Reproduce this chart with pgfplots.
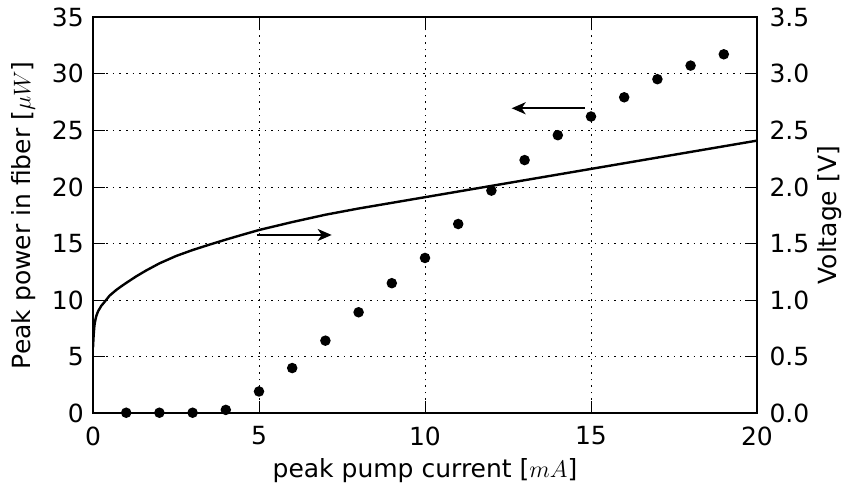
\documentclass[border=0pt]{standalone}
\usepackage{pgfplots}
\pgfplotsset{compat=1.18}
\usepackage{fontspec}
\setmainfont{DejaVu Sans}
\usetikzlibrary{arrows.meta}
\begin{document}
\fontsize{12.5}{15}\selectfont
\begin{tikzpicture}
\pgfplotsset{
  every axis/.append style={
    scale only axis, width=332pt, height=198pt,
    xmin=0, xmax=20,
    line width=1pt,
    tick style={line width=0.5pt, black},
    major tick length=6pt,
    tick align=inside,
    /pgf/number format/assume math mode=true,
    tick label style={font=\fontsize{12.5}{15}\selectfont},
    label style={font=\fontsize{12.5}{15}\selectfont},
  }
}
\begin{axis}[
  ymin=0, ymax=35,
  xtick={0,5,10,15,20},
  ytick={0,5,10,15,20,25,30,35},
  xtick pos=both, ytick pos=left,
  grid=major,
  major grid style={black, line width=0.5pt, dash pattern=on 0.8pt off 2.5pt},
  xlabel={peak pump current [$mA$]},
  ylabel={Peak power in fiber [$\mu W$]},
  xlabel style={at={(axis description cs:0.5,-0.161)}, anchor=base},
  ylabel style={at={(axis description cs:-0.1047,0.5)}, anchor=center},
  xticklabel style={yshift=-2pt},
]
\coordinate (ll) at (rel axis cs:0,0);
\coordinate (ur) at (rel axis cs:1,1);
\addplot[only marks, mark=*, mark size=2.1pt, black] coordinates {
(1,0.05) (2,0.05) (3,0.05) (4,0.3) (5,1.93) (6,4.0) (7,6.42) (8,8.93) (9,11.5)
(10,13.73) (11,16.73) (12,19.68) (13,22.38) (14,24.58) (15,26.23) (16,27.93)
(17,29.53) (18,30.73) (19,31.73)
};
\addplot[black, line width=1.1pt, -{Stealth[length=7pt,width=6pt,inset=2pt]}] coordinates {(4.93,15.76) (7.19,15.76)};
\addplot[black, line width=1.1pt, -{Stealth[length=7pt,width=6pt,inset=2pt]}] coordinates {(14.82,26.96) (12.61,26.96)};
\end{axis}
\begin{axis}[
  ymin=0, ymax=3.5,
  axis x line=none,
  axis y line*=right,
  ytick={0,0.5,1,1.5,2,2.5,3,3.5},
  yticklabel style={xshift=1.6pt, /pgf/number format/.cd, fixed, fixed zerofill, precision=1},
  ylabel={Voltage [V]},
  ylabel style={at={(axis description cs:1.1099,0.5)}, anchor=center},
]
\addplot[black, line width=1.2pt, line join=round] coordinates {
(0,0.58) (0.01,0.64) (0.02,0.69) (0.035,0.75) (0.05,0.79) (0.075,0.83) (0.1,0.86)
(0.15,0.9) (0.25,0.95) (0.35,0.985) (0.5,1.04) (0.7,1.09) (0.85,1.122)
(1,1.152) (1.3,1.21) (1.6,1.262) (2,1.325) (2.5,1.39) (3,1.443) (3.5,1.49)
(4,1.535) (4.5,1.578) (5,1.62) (6,1.69) (7,1.755) (8,1.81) (9,1.86) (10,1.91)
(11,1.96) (12,2.01) (13,2.06) (14,2.11) (15,2.16) (16,2.21) (17,2.26)
(18,2.31) (19,2.36) (20,2.41)
};
\end{axis}
\pgfresetboundingbox
\path ([shift={(-46.5pt,-36.35pt)}]ll) rectangle ([shift={(44pt,8.65pt)}]ur);
\end{tikzpicture}
\end{document}
